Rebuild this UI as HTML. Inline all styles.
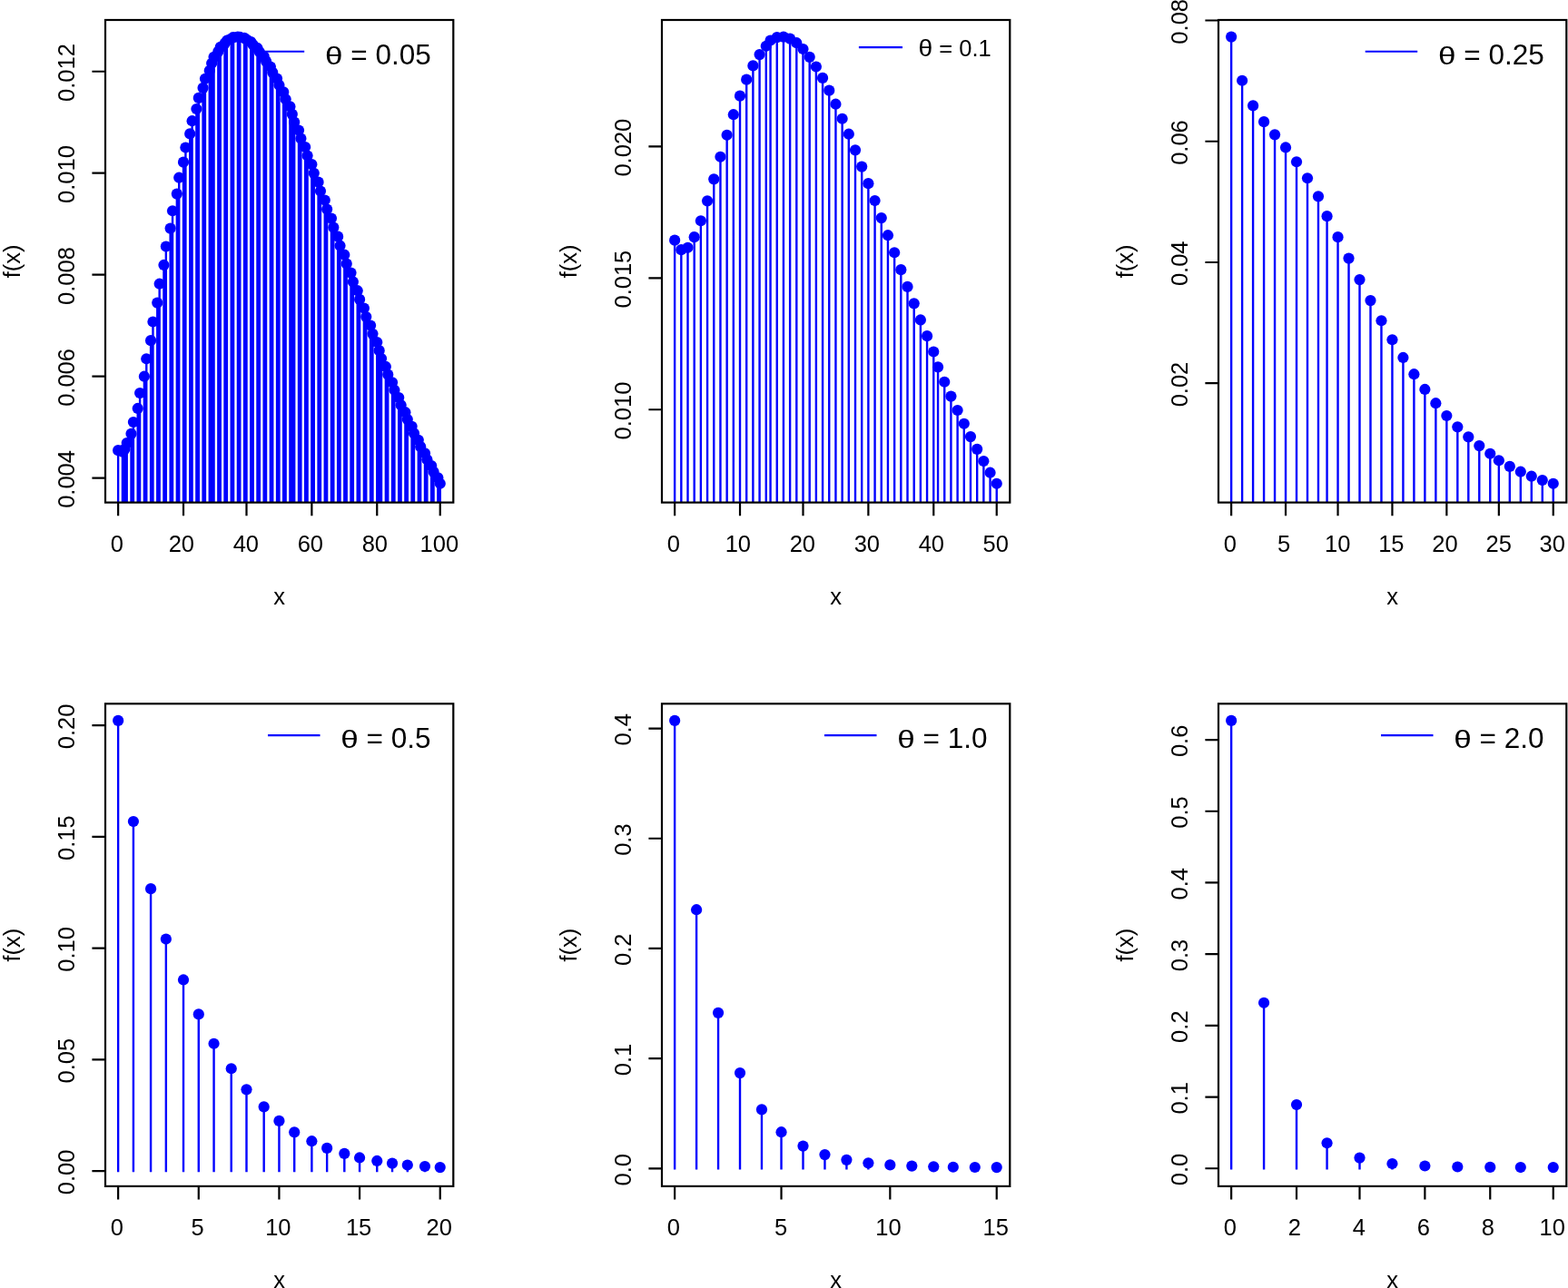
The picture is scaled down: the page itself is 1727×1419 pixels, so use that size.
<!DOCTYPE html>
<html><head><meta charset="utf-8"><title>plot</title>
<style>
html,body{margin:0;padding:0;background:#fff;}
body{width:1727px;height:1419px;overflow:hidden;}
svg{display:block;font-family:"Liberation Sans",Arial,sans-serif;fill:#000;}
</style></head><body>
<svg width="1727" height="1419" viewBox="0 0 1727 1419">
<rect width="100%" height="100%" fill="#fff"/>
<defs>
<clipPath id="c0"><rect x="116.00" y="22.00" width="383.30" height="531.60"/></clipPath>
<clipPath id="c1"><rect x="729.00" y="22.00" width="383.30" height="531.60"/></clipPath>
<clipPath id="c2"><rect x="1342.00" y="22.00" width="383.30" height="531.60"/></clipPath>
<clipPath id="c3"><rect x="116.00" y="775.30" width="383.30" height="531.60"/></clipPath>
<clipPath id="c4"><rect x="729.00" y="775.30" width="383.30" height="531.60"/></clipPath>
<clipPath id="c5"><rect x="1342.00" y="775.30" width="383.30" height="531.60"/></clipPath>
</defs>
<g clip-path="url(#c0)">
<path d="M128.94 558.60H131.33V497.24H128.94ZM133.73 558.60H136.13V498.86H133.73ZM136.13 558.60H138.52V495.92H136.13ZM138.52 558.60H140.92V489.10H138.52ZM143.31 558.60H145.71V479.00H143.31ZM145.71 558.60H148.11V466.15H145.71ZM150.50 558.60H152.90V451.05H150.50ZM152.90 558.60H155.29V434.14H152.90ZM157.69 558.60H160.09V415.81H157.69ZM160.09 558.60H162.48V396.40H160.09ZM164.88 558.60H167.27V376.24H164.88ZM167.27 558.60H169.67V355.59H167.27ZM172.07 558.60H174.46V334.71H172.07ZM174.46 558.60H176.86V313.80H174.46ZM179.25 558.60H181.65V293.06H179.25ZM181.65 558.60H184.05V272.64H181.65ZM186.44 558.60H188.84V252.70H186.44ZM188.84 558.60H191.23V233.34H188.84ZM193.63 558.60H196.03V214.68H193.63ZM196.03 558.60H198.42V196.80H196.03ZM200.82 558.60H203.21V179.77H200.82ZM203.21 558.60H205.61V163.65H203.21ZM208.01 558.60H210.40V148.49H208.01ZM210.40 558.60H212.80V134.31H210.40ZM215.19 558.60H217.59V121.15H215.19ZM217.59 558.60H219.99V109.03H217.59ZM222.38 558.60H224.78V97.94H222.38ZM224.78 558.60H227.17V87.89H224.78ZM229.57 558.60H231.97V78.88H229.57ZM231.97 558.60H234.36V70.90H231.97ZM234.36 558.60H236.76V63.94H234.36ZM239.15 558.60H241.55V57.97H239.15ZM241.55 558.60H243.95V52.98H241.55ZM246.34 558.60H248.74V48.93H246.34ZM248.74 558.60H251.13V45.81H248.74ZM253.53 558.60H255.93V43.58H253.53ZM255.93 558.60H258.32V42.22H255.93ZM260.72 558.60H263.11V41.69H260.72ZM263.11 558.60H265.51V41.96H263.11ZM267.91 558.60H270.30V42.99H267.91ZM270.30 558.60H272.70V44.75H270.30ZM275.09 558.60H277.49V47.20H275.09ZM277.49 558.60H279.89V50.32H277.49ZM282.28 558.60H284.68V54.06H282.28ZM284.68 558.60H287.07V58.39H284.68ZM289.47 558.60H291.87V63.28H289.47ZM291.87 558.60H294.26V68.69H291.87ZM296.66 558.60H299.05V74.59H296.66ZM299.05 558.60H301.45V80.95H299.05ZM303.85 558.60H306.24V87.73H303.85ZM306.24 558.60H308.64V94.91H306.24ZM311.03 558.60H313.43V102.45H311.03ZM313.43 558.60H315.83V110.33H313.43ZM318.22 558.60H320.62V118.51H318.22ZM320.62 558.60H323.01V126.97H320.62ZM323.01 558.60H325.41V135.69H323.01ZM327.81 558.60H330.20V144.63H327.81ZM330.20 558.60H332.60V153.77H330.20ZM334.99 558.60H337.39V163.10H334.99ZM337.39 558.60H339.79V172.58H337.39ZM342.18 558.60H344.58V182.20H342.18ZM344.58 558.60H346.97V191.93H344.58ZM349.37 558.60H351.77V201.76H349.37ZM351.77 558.60H354.16V211.66H351.77ZM356.56 558.60H358.95V221.63H356.56ZM358.95 558.60H361.35V231.63H358.95ZM363.75 558.60H366.14V241.67H363.75ZM366.14 558.60H368.54V251.72H366.14ZM370.93 558.60H373.33V261.76H370.93ZM373.33 558.60H375.73V271.79H373.33ZM378.12 558.60H380.52V281.80H378.12ZM380.52 558.60H382.91V291.76H380.52ZM385.31 558.60H387.71V301.68H385.31ZM387.71 558.60H390.10V311.54H387.71ZM392.50 558.60H394.89V321.32H392.50ZM394.89 558.60H397.29V331.03H394.89ZM399.69 558.60H402.08V340.66H399.69ZM402.08 558.60H404.48V350.19H402.08ZM406.87 558.60H409.27V359.62H406.87ZM409.27 558.60H411.67V368.94H409.27ZM414.06 558.60H416.46V378.15H414.06ZM416.46 558.60H418.85V387.25H416.46ZM418.85 558.60H421.25V396.22H418.85ZM423.65 558.60H426.04V405.07H423.65ZM426.04 558.60H428.44V413.78H426.04ZM430.83 558.60H433.23V422.37H430.83ZM433.23 558.60H435.63V430.81H433.23ZM438.02 558.60H440.42V439.12H438.02ZM440.42 558.60H442.81V447.29H440.42ZM445.21 558.60H447.61V455.31H445.21ZM447.61 558.60H450.00V463.19H447.61ZM452.40 558.60H454.79V470.92H452.40ZM454.79 558.60H457.19V478.51H454.79ZM459.59 558.60H461.98V485.95H459.59ZM461.98 558.60H464.38V493.25H461.98ZM466.77 558.60H469.17V500.39H466.77ZM469.17 558.60H471.57V507.39H469.17ZM473.96 558.60H476.36V514.24H473.96ZM476.36 558.60H478.75V520.94H476.36ZM481.15 558.60H483.55V527.50H481.15ZM483.55 558.60H485.94V533.91H483.55Z" fill="#0000ff"/>
<circle fill="#0000ff" cx="130.14" cy="496.14" r="6.1"/><circle fill="#0000ff" cx="134.93" cy="497.76" r="6.1"/><circle fill="#0000ff" cx="137.32" cy="494.82" r="6.1"/><circle fill="#0000ff" cx="139.72" cy="488.00" r="6.1"/><circle fill="#0000ff" cx="144.51" cy="477.90" r="6.1"/><circle fill="#0000ff" cx="146.91" cy="465.05" r="6.1"/><circle fill="#0000ff" cx="151.70" cy="449.95" r="6.1"/><circle fill="#0000ff" cx="154.10" cy="433.04" r="6.1"/><circle fill="#0000ff" cx="158.89" cy="414.71" r="6.1"/><circle fill="#0000ff" cx="161.28" cy="395.30" r="6.1"/><circle fill="#0000ff" cx="166.08" cy="375.14" r="6.1"/><circle fill="#0000ff" cx="168.47" cy="354.49" r="6.1"/><circle fill="#0000ff" cx="173.26" cy="333.61" r="6.1"/><circle fill="#0000ff" cx="175.66" cy="312.70" r="6.1"/><circle fill="#0000ff" cx="180.45" cy="291.96" r="6.1"/><circle fill="#0000ff" cx="182.85" cy="271.54" r="6.1"/><circle fill="#0000ff" cx="187.64" cy="251.60" r="6.1"/><circle fill="#0000ff" cx="190.04" cy="232.24" r="6.1"/><circle fill="#0000ff" cx="194.83" cy="213.58" r="6.1"/><circle fill="#0000ff" cx="197.22" cy="195.70" r="6.1"/><circle fill="#0000ff" cx="202.02" cy="178.67" r="6.1"/><circle fill="#0000ff" cx="204.41" cy="162.55" r="6.1"/><circle fill="#0000ff" cx="209.20" cy="147.39" r="6.1"/><circle fill="#0000ff" cx="211.60" cy="133.21" r="6.1"/><circle fill="#0000ff" cx="216.39" cy="120.05" r="6.1"/><circle fill="#0000ff" cx="218.79" cy="107.93" r="6.1"/><circle fill="#0000ff" cx="223.58" cy="96.84" r="6.1"/><circle fill="#0000ff" cx="225.98" cy="86.79" r="6.1"/><circle fill="#0000ff" cx="230.77" cy="77.78" r="6.1"/><circle fill="#0000ff" cx="233.16" cy="69.80" r="6.1"/><circle fill="#0000ff" cx="235.56" cy="62.84" r="6.1"/><circle fill="#0000ff" cx="240.35" cy="56.87" r="6.1"/><circle fill="#0000ff" cx="242.75" cy="51.88" r="6.1"/><circle fill="#0000ff" cx="247.54" cy="47.83" r="6.1"/><circle fill="#0000ff" cx="249.94" cy="44.71" r="6.1"/><circle fill="#0000ff" cx="254.73" cy="42.48" r="6.1"/><circle fill="#0000ff" cx="257.12" cy="41.12" r="6.1"/><circle fill="#0000ff" cx="261.92" cy="40.59" r="6.1"/><circle fill="#0000ff" cx="264.31" cy="40.86" r="6.1"/><circle fill="#0000ff" cx="269.10" cy="41.89" r="6.1"/><circle fill="#0000ff" cx="271.50" cy="43.65" r="6.1"/><circle fill="#0000ff" cx="276.29" cy="46.10" r="6.1"/><circle fill="#0000ff" cx="278.69" cy="49.22" r="6.1"/><circle fill="#0000ff" cx="283.48" cy="52.96" r="6.1"/><circle fill="#0000ff" cx="285.88" cy="57.29" r="6.1"/><circle fill="#0000ff" cx="290.67" cy="62.18" r="6.1"/><circle fill="#0000ff" cx="293.06" cy="67.59" r="6.1"/><circle fill="#0000ff" cx="297.86" cy="73.49" r="6.1"/><circle fill="#0000ff" cx="300.25" cy="79.85" r="6.1"/><circle fill="#0000ff" cx="305.04" cy="86.63" r="6.1"/><circle fill="#0000ff" cx="307.44" cy="93.81" r="6.1"/><circle fill="#0000ff" cx="312.23" cy="101.35" r="6.1"/><circle fill="#0000ff" cx="314.63" cy="109.23" r="6.1"/><circle fill="#0000ff" cx="319.42" cy="117.41" r="6.1"/><circle fill="#0000ff" cx="321.82" cy="125.87" r="6.1"/><circle fill="#0000ff" cx="324.21" cy="134.59" r="6.1"/><circle fill="#0000ff" cx="329.00" cy="143.53" r="6.1"/><circle fill="#0000ff" cx="331.40" cy="152.67" r="6.1"/><circle fill="#0000ff" cx="336.19" cy="162.00" r="6.1"/><circle fill="#0000ff" cx="338.59" cy="171.48" r="6.1"/><circle fill="#0000ff" cx="343.38" cy="181.10" r="6.1"/><circle fill="#0000ff" cx="345.78" cy="190.83" r="6.1"/><circle fill="#0000ff" cx="350.57" cy="200.66" r="6.1"/><circle fill="#0000ff" cx="352.96" cy="210.56" r="6.1"/><circle fill="#0000ff" cx="357.76" cy="220.53" r="6.1"/><circle fill="#0000ff" cx="360.15" cy="230.53" r="6.1"/><circle fill="#0000ff" cx="364.94" cy="240.57" r="6.1"/><circle fill="#0000ff" cx="367.34" cy="250.62" r="6.1"/><circle fill="#0000ff" cx="372.13" cy="260.66" r="6.1"/><circle fill="#0000ff" cx="374.53" cy="270.69" r="6.1"/><circle fill="#0000ff" cx="379.32" cy="280.70" r="6.1"/><circle fill="#0000ff" cx="381.72" cy="290.66" r="6.1"/><circle fill="#0000ff" cx="386.51" cy="300.58" r="6.1"/><circle fill="#0000ff" cx="388.90" cy="310.44" r="6.1"/><circle fill="#0000ff" cx="393.70" cy="320.22" r="6.1"/><circle fill="#0000ff" cx="396.09" cy="329.93" r="6.1"/><circle fill="#0000ff" cx="400.88" cy="339.56" r="6.1"/><circle fill="#0000ff" cx="403.28" cy="349.09" r="6.1"/><circle fill="#0000ff" cx="408.07" cy="358.52" r="6.1"/><circle fill="#0000ff" cx="410.47" cy="367.84" r="6.1"/><circle fill="#0000ff" cx="415.26" cy="377.05" r="6.1"/><circle fill="#0000ff" cx="417.66" cy="386.15" r="6.1"/><circle fill="#0000ff" cx="420.05" cy="395.12" r="6.1"/><circle fill="#0000ff" cx="424.84" cy="403.97" r="6.1"/><circle fill="#0000ff" cx="427.24" cy="412.68" r="6.1"/><circle fill="#0000ff" cx="432.03" cy="421.27" r="6.1"/><circle fill="#0000ff" cx="434.43" cy="429.71" r="6.1"/><circle fill="#0000ff" cx="439.22" cy="438.02" r="6.1"/><circle fill="#0000ff" cx="441.62" cy="446.19" r="6.1"/><circle fill="#0000ff" cx="446.41" cy="454.21" r="6.1"/><circle fill="#0000ff" cx="448.80" cy="462.09" r="6.1"/><circle fill="#0000ff" cx="453.60" cy="469.82" r="6.1"/><circle fill="#0000ff" cx="455.99" cy="477.41" r="6.1"/><circle fill="#0000ff" cx="460.78" cy="484.85" r="6.1"/><circle fill="#0000ff" cx="463.18" cy="492.15" r="6.1"/><circle fill="#0000ff" cx="467.97" cy="499.29" r="6.1"/><circle fill="#0000ff" cx="470.37" cy="506.29" r="6.1"/><circle fill="#0000ff" cx="475.16" cy="513.14" r="6.1"/><circle fill="#0000ff" cx="477.56" cy="519.84" r="6.1"/><circle fill="#0000ff" cx="482.35" cy="526.40" r="6.1"/><circle fill="#0000ff" cx="484.74" cy="532.81" r="6.1"/>
</g>
<rect x="116.00" y="22.00" width="383.30" height="531.60" fill="none" stroke="#000" stroke-width="2.2"/>
<path d="M130.14 553.60v14.6M202.02 553.60v14.6M271.50 553.60v14.6M343.38 553.60v14.6M415.26 553.60v14.6M484.74 553.60v14.6M116.00 526.64h-14.6M116.00 414.66h-14.6M116.00 302.69h-14.6M116.00 190.71h-14.6M116.00 78.74h-14.6" stroke="#000" stroke-width="2.2" fill="none"/>
<text x="128.90" y="608.10" font-size="25.5" text-anchor="middle">0</text>
<text x="199.88" y="608.10" font-size="25.5" text-anchor="middle">20</text>
<text x="270.86" y="608.10" font-size="25.5" text-anchor="middle">40</text>
<text x="341.84" y="608.10" font-size="25.5" text-anchor="middle">60</text>
<text x="412.82" y="608.10" font-size="25.5" text-anchor="middle">80</text>
<text x="483.80" y="608.10" font-size="25.5" text-anchor="middle">100</text>
<text x="82.30" y="527.94" font-size="25.5" text-anchor="middle" transform="rotate(-90 82.30 527.94)">0.004</text>
<text x="82.30" y="415.96" font-size="25.5" text-anchor="middle" transform="rotate(-90 82.30 415.96)">0.006</text>
<text x="82.30" y="303.99" font-size="25.5" text-anchor="middle" transform="rotate(-90 82.30 303.99)">0.008</text>
<text x="82.30" y="192.01" font-size="25.5" text-anchor="middle" transform="rotate(-90 82.30 192.01)">0.010</text>
<text x="82.30" y="80.04" font-size="25.5" text-anchor="middle" transform="rotate(-90 82.30 80.04)">0.012</text>
<text x="307.65" y="665.80" font-size="25.5" text-anchor="middle">x</text>
<text x="21.90" y="287.80" font-size="25.5" text-anchor="middle" transform="rotate(-90 21.90 287.80)">f(x)</text>
<path d="M277.70 56.75H335.20" stroke="#0000ff" stroke-width="2.2"/>
<text x="358.00" y="71.10" font-size="31.5"><tspan font-size="27.2" textLength="19.5" lengthAdjust="spacingAndGlyphs">θ</tspan> = 0.05</text>
<g clip-path="url(#c1)">
<path d="M741.94 558.60H744.33V265.76H741.94ZM749.13 558.60H751.52V276.25H749.13ZM756.31 558.60H758.71V273.88H756.31ZM763.50 558.60H765.90V262.26H763.50ZM770.69 558.60H773.09V244.33H770.69ZM777.88 558.60H780.27V222.43H777.88ZM785.07 558.60H787.46V198.47H785.07ZM792.25 558.60H794.65V173.91H792.25ZM799.44 558.60H801.84V149.90H799.44ZM806.63 558.60H809.03V127.31H806.63ZM813.82 558.60H816.21V106.78H813.82ZM821.01 558.60H823.40V88.74H821.01ZM828.19 558.60H830.59V73.49H828.19ZM835.38 558.60H837.78V61.19H835.38ZM842.57 558.60H844.97V51.91H842.57ZM847.36 558.60H849.76V45.62H847.36ZM854.55 558.60H856.95V42.26H854.55ZM861.74 558.60H864.13V41.69H861.74ZM868.93 558.60H871.32V43.76H868.93ZM876.11 558.60H878.51V48.30H876.11ZM883.30 558.60H885.70V55.10H883.30ZM890.49 558.60H892.89V63.95H890.49ZM897.68 558.60H900.07V74.66H897.68ZM904.87 558.60H907.26V87.00H904.87ZM912.05 558.60H914.45V100.78H912.05ZM919.24 558.60H921.64V115.80H919.24ZM926.43 558.60H928.83V131.87H926.43ZM933.62 558.60H936.01V148.82H933.62ZM940.81 558.60H943.20V166.47H940.81ZM947.99 558.60H950.39V184.67H947.99ZM955.18 558.60H957.58V203.28H955.18ZM962.37 558.60H964.77V222.16H962.37ZM969.56 558.60H971.95V241.21H969.56ZM976.75 558.60H979.14V260.31H976.75ZM983.93 558.60H986.33V279.36H983.93ZM991.12 558.60H993.52V298.28H991.12ZM998.31 558.60H1000.71V316.99H998.31ZM1005.50 558.60H1007.89V335.44H1005.50ZM1012.69 558.60H1015.08V353.55H1012.69ZM1019.87 558.60H1022.27V371.28H1019.87ZM1027.06 558.60H1029.46V388.60H1027.06ZM1031.85 558.60H1034.25V405.46H1031.85ZM1039.04 558.60H1041.44V421.84H1039.04ZM1046.23 558.60H1048.63V437.72H1046.23ZM1053.42 558.60H1055.81V453.08H1053.42ZM1060.61 558.60H1063.00V467.91H1060.61ZM1067.79 558.60H1070.19V482.19H1067.79ZM1074.98 558.60H1077.38V495.94H1074.98ZM1082.17 558.60H1084.57V509.14H1082.17ZM1089.36 558.60H1091.75V521.79H1089.36ZM1096.55 558.60H1098.94V533.91H1096.55Z" fill="#0000ff"/>
<circle fill="#0000ff" cx="743.14" cy="264.66" r="6.1"/><circle fill="#0000ff" cx="750.32" cy="275.15" r="6.1"/><circle fill="#0000ff" cx="757.51" cy="272.78" r="6.1"/><circle fill="#0000ff" cx="764.70" cy="261.16" r="6.1"/><circle fill="#0000ff" cx="771.89" cy="243.23" r="6.1"/><circle fill="#0000ff" cx="779.08" cy="221.33" r="6.1"/><circle fill="#0000ff" cx="786.26" cy="197.37" r="6.1"/><circle fill="#0000ff" cx="793.45" cy="172.81" r="6.1"/><circle fill="#0000ff" cx="800.64" cy="148.80" r="6.1"/><circle fill="#0000ff" cx="807.83" cy="126.21" r="6.1"/><circle fill="#0000ff" cx="815.02" cy="105.68" r="6.1"/><circle fill="#0000ff" cx="822.20" cy="87.64" r="6.1"/><circle fill="#0000ff" cx="829.39" cy="72.39" r="6.1"/><circle fill="#0000ff" cx="836.58" cy="60.09" r="6.1"/><circle fill="#0000ff" cx="843.77" cy="50.81" r="6.1"/><circle fill="#0000ff" cx="848.56" cy="44.52" r="6.1"/><circle fill="#0000ff" cx="855.75" cy="41.16" r="6.1"/><circle fill="#0000ff" cx="862.94" cy="40.59" r="6.1"/><circle fill="#0000ff" cx="870.12" cy="42.66" r="6.1"/><circle fill="#0000ff" cx="877.31" cy="47.20" r="6.1"/><circle fill="#0000ff" cx="884.50" cy="54.00" r="6.1"/><circle fill="#0000ff" cx="891.69" cy="62.85" r="6.1"/><circle fill="#0000ff" cx="898.88" cy="73.56" r="6.1"/><circle fill="#0000ff" cx="906.06" cy="85.90" r="6.1"/><circle fill="#0000ff" cx="913.25" cy="99.68" r="6.1"/><circle fill="#0000ff" cx="920.44" cy="114.70" r="6.1"/><circle fill="#0000ff" cx="927.63" cy="130.77" r="6.1"/><circle fill="#0000ff" cx="934.82" cy="147.72" r="6.1"/><circle fill="#0000ff" cx="942.00" cy="165.37" r="6.1"/><circle fill="#0000ff" cx="949.19" cy="183.57" r="6.1"/><circle fill="#0000ff" cx="956.38" cy="202.18" r="6.1"/><circle fill="#0000ff" cx="963.57" cy="221.06" r="6.1"/><circle fill="#0000ff" cx="970.76" cy="240.11" r="6.1"/><circle fill="#0000ff" cx="977.94" cy="259.21" r="6.1"/><circle fill="#0000ff" cx="985.13" cy="278.26" r="6.1"/><circle fill="#0000ff" cx="992.32" cy="297.18" r="6.1"/><circle fill="#0000ff" cx="999.51" cy="315.89" r="6.1"/><circle fill="#0000ff" cx="1006.70" cy="334.34" r="6.1"/><circle fill="#0000ff" cx="1013.88" cy="352.45" r="6.1"/><circle fill="#0000ff" cx="1021.07" cy="370.18" r="6.1"/><circle fill="#0000ff" cx="1028.26" cy="387.50" r="6.1"/><circle fill="#0000ff" cx="1033.05" cy="404.36" r="6.1"/><circle fill="#0000ff" cx="1040.24" cy="420.74" r="6.1"/><circle fill="#0000ff" cx="1047.43" cy="436.62" r="6.1"/><circle fill="#0000ff" cx="1054.62" cy="451.98" r="6.1"/><circle fill="#0000ff" cx="1061.80" cy="466.81" r="6.1"/><circle fill="#0000ff" cx="1068.99" cy="481.09" r="6.1"/><circle fill="#0000ff" cx="1076.18" cy="494.84" r="6.1"/><circle fill="#0000ff" cx="1083.37" cy="508.04" r="6.1"/><circle fill="#0000ff" cx="1090.56" cy="520.69" r="6.1"/><circle fill="#0000ff" cx="1097.74" cy="532.81" r="6.1"/>
</g>
<rect x="729.00" y="22.00" width="383.30" height="531.60" fill="none" stroke="#000" stroke-width="2.2"/>
<path d="M743.14 553.60v14.6M815.02 553.60v14.6M884.50 553.60v14.6M956.38 553.60v14.6M1028.26 553.60v14.6M1097.74 553.60v14.6M729.00 451.24h-14.6M729.00 306.30h-14.6M729.00 161.36h-14.6" stroke="#000" stroke-width="2.2" fill="none"/>
<text x="741.90" y="608.10" font-size="25.5" text-anchor="middle">0</text>
<text x="812.88" y="608.10" font-size="25.5" text-anchor="middle">10</text>
<text x="883.86" y="608.10" font-size="25.5" text-anchor="middle">20</text>
<text x="954.84" y="608.10" font-size="25.5" text-anchor="middle">30</text>
<text x="1025.82" y="608.10" font-size="25.5" text-anchor="middle">40</text>
<text x="1096.80" y="608.10" font-size="25.5" text-anchor="middle">50</text>
<text x="695.30" y="452.54" font-size="25.5" text-anchor="middle" transform="rotate(-90 695.30 452.54)">0.010</text>
<text x="695.30" y="307.60" font-size="25.5" text-anchor="middle" transform="rotate(-90 695.30 307.60)">0.015</text>
<text x="695.30" y="162.66" font-size="25.5" text-anchor="middle" transform="rotate(-90 695.30 162.66)">0.020</text>
<text x="920.65" y="665.80" font-size="25.5" text-anchor="middle">x</text>
<text x="634.90" y="287.80" font-size="25.5" text-anchor="middle" transform="rotate(-90 634.90 287.80)">f(x)</text>
<path d="M945.90 52.20H994.00" stroke="#0000ff" stroke-width="2.2"/>
<text x="1011.50" y="62.15" font-size="25.5"><tspan textLength="15.7" lengthAdjust="spacingAndGlyphs">θ</tspan> = 0.1</text>
<g clip-path="url(#c2)">
<path d="M1354.94 556.60H1357.33V41.69H1354.94ZM1366.92 556.60H1369.31V89.87H1366.92ZM1378.90 556.60H1381.29V117.50H1378.90ZM1390.88 556.60H1393.27V135.23H1390.88ZM1402.86 556.60H1405.25V149.42H1402.86ZM1414.84 556.60H1417.23V163.57H1414.84ZM1426.82 556.60H1429.21V179.35H1426.82ZM1438.80 556.60H1441.19V197.35H1438.80ZM1450.78 556.60H1453.17V217.47H1450.78ZM1460.36 556.60H1462.76V239.28H1460.36ZM1472.34 556.60H1474.74V262.23H1472.34ZM1484.32 556.60H1486.72V285.71H1484.32ZM1496.30 556.60H1498.70V309.19H1496.30ZM1508.28 556.60H1510.68V332.19H1508.28ZM1520.26 556.60H1522.66V354.34H1520.26ZM1532.24 556.60H1534.64V375.36H1532.24ZM1544.22 556.60H1546.62V395.06H1544.22ZM1556.20 556.60H1558.60V413.31H1556.20ZM1568.18 556.60H1570.58V430.06H1568.18ZM1580.16 556.60H1582.56V445.31H1580.16ZM1592.14 556.60H1594.54V459.08H1592.14ZM1604.12 556.60H1606.52V471.43H1604.12ZM1616.10 556.60H1618.50V482.45H1616.10ZM1628.08 556.60H1630.48V492.21H1628.08ZM1640.06 556.60H1642.46V500.83H1640.06ZM1649.65 556.60H1652.04V508.41H1649.65ZM1661.63 556.60H1664.02V515.03H1661.63ZM1673.61 556.60H1676.00V520.81H1673.61ZM1685.59 556.60H1687.98V525.82H1685.59ZM1697.57 556.60H1699.96V530.16H1697.57ZM1709.55 556.60H1711.94V533.91H1709.55Z" fill="#0000ff"/>
<circle fill="#0000ff" cx="1356.14" cy="40.59" r="6.1"/><circle fill="#0000ff" cx="1368.12" cy="88.77" r="6.1"/><circle fill="#0000ff" cx="1380.10" cy="116.40" r="6.1"/><circle fill="#0000ff" cx="1392.08" cy="134.13" r="6.1"/><circle fill="#0000ff" cx="1404.06" cy="148.32" r="6.1"/><circle fill="#0000ff" cx="1416.04" cy="162.47" r="6.1"/><circle fill="#0000ff" cx="1428.02" cy="178.25" r="6.1"/><circle fill="#0000ff" cx="1440.00" cy="196.25" r="6.1"/><circle fill="#0000ff" cx="1451.98" cy="216.37" r="6.1"/><circle fill="#0000ff" cx="1461.56" cy="238.18" r="6.1"/><circle fill="#0000ff" cx="1473.54" cy="261.13" r="6.1"/><circle fill="#0000ff" cx="1485.52" cy="284.61" r="6.1"/><circle fill="#0000ff" cx="1497.50" cy="308.09" r="6.1"/><circle fill="#0000ff" cx="1509.48" cy="331.09" r="6.1"/><circle fill="#0000ff" cx="1521.46" cy="353.24" r="6.1"/><circle fill="#0000ff" cx="1533.44" cy="374.26" r="6.1"/><circle fill="#0000ff" cx="1545.42" cy="393.96" r="6.1"/><circle fill="#0000ff" cx="1557.40" cy="412.21" r="6.1"/><circle fill="#0000ff" cx="1569.38" cy="428.96" r="6.1"/><circle fill="#0000ff" cx="1581.36" cy="444.21" r="6.1"/><circle fill="#0000ff" cx="1593.34" cy="457.98" r="6.1"/><circle fill="#0000ff" cx="1605.32" cy="470.33" r="6.1"/><circle fill="#0000ff" cx="1617.30" cy="481.35" r="6.1"/><circle fill="#0000ff" cx="1629.28" cy="491.11" r="6.1"/><circle fill="#0000ff" cx="1641.26" cy="499.73" r="6.1"/><circle fill="#0000ff" cx="1650.84" cy="507.31" r="6.1"/><circle fill="#0000ff" cx="1662.82" cy="513.93" r="6.1"/><circle fill="#0000ff" cx="1674.80" cy="519.71" r="6.1"/><circle fill="#0000ff" cx="1686.78" cy="524.72" r="6.1"/><circle fill="#0000ff" cx="1698.76" cy="529.06" r="6.1"/><circle fill="#0000ff" cx="1710.74" cy="532.81" r="6.1"/>
</g>
<rect x="1342.00" y="22.00" width="383.30" height="531.60" fill="none" stroke="#000" stroke-width="2.2"/>
<path d="M1356.14 553.60v14.6M1416.04 553.60v14.6M1473.54 553.60v14.6M1533.44 553.60v14.6M1593.34 553.60v14.6M1650.84 553.60v14.6M1710.74 553.60v14.6M1342.00 422.21h-14.6M1342.00 288.98h-14.6M1342.00 155.74h-14.6M1342.00 22.50h-14.6" stroke="#000" stroke-width="2.2" fill="none"/>
<text x="1354.90" y="608.10" font-size="25.5" text-anchor="middle">0</text>
<text x="1414.05" y="608.10" font-size="25.5" text-anchor="middle">5</text>
<text x="1473.20" y="608.10" font-size="25.5" text-anchor="middle">10</text>
<text x="1532.35" y="608.10" font-size="25.5" text-anchor="middle">15</text>
<text x="1591.50" y="608.10" font-size="25.5" text-anchor="middle">20</text>
<text x="1650.65" y="608.10" font-size="25.5" text-anchor="middle">25</text>
<text x="1709.80" y="608.10" font-size="25.5" text-anchor="middle">30</text>
<text x="1308.30" y="423.51" font-size="25.5" text-anchor="middle" transform="rotate(-90 1308.30 423.51)">0.02</text>
<text x="1308.30" y="290.28" font-size="25.5" text-anchor="middle" transform="rotate(-90 1308.30 290.28)">0.04</text>
<text x="1308.30" y="157.04" font-size="25.5" text-anchor="middle" transform="rotate(-90 1308.30 157.04)">0.06</text>
<text x="1308.30" y="23.80" font-size="25.5" text-anchor="middle" transform="rotate(-90 1308.30 23.80)">0.08</text>
<text x="1533.65" y="665.80" font-size="25.5" text-anchor="middle">x</text>
<text x="1247.90" y="287.80" font-size="25.5" text-anchor="middle" transform="rotate(-90 1247.90 287.80)">f(x)</text>
<path d="M1503.70 56.75H1561.20" stroke="#0000ff" stroke-width="2.2"/>
<text x="1584.00" y="71.10" font-size="31.5"><tspan font-size="27.2" textLength="19.5" lengthAdjust="spacingAndGlyphs">θ</tspan> = 0.25</text>
<g clip-path="url(#c3)">
<path d="M128.94 1291.31H131.33V794.99H128.94ZM145.71 1291.31H148.11V906.15H145.71ZM164.88 1291.31H167.27V980.26H164.88ZM181.65 1291.31H184.05V1035.65H181.65ZM200.82 1291.31H203.21V1080.56H200.82ZM217.59 1291.31H219.99V1118.49H217.59ZM234.36 1291.31H236.76V1150.87H234.36ZM253.53 1291.31H255.93V1178.37H253.53ZM270.30 1291.31H272.70V1201.44H270.30ZM289.47 1291.31H291.87V1220.50H289.47ZM306.24 1291.31H308.64V1236.01H306.24ZM323.01 1291.31H325.41V1248.45H323.01ZM342.18 1291.31H344.58V1258.30H342.18ZM358.95 1291.31H361.35V1266.01H358.95ZM378.12 1291.31H380.52V1271.98H378.12ZM394.89 1291.31H397.29V1276.56H394.89ZM414.06 1291.31H416.46V1280.05H414.06ZM430.83 1291.31H433.23V1282.68H430.83ZM447.61 1291.31H450.00V1284.65H447.61ZM466.77 1291.31H469.17V1286.12H466.77ZM483.55 1291.31H485.94V1287.21H483.55Z" fill="#0000ff"/>
<circle fill="#0000ff" cx="130.14" cy="793.89" r="6.1"/><circle fill="#0000ff" cx="146.91" cy="905.05" r="6.1"/><circle fill="#0000ff" cx="166.08" cy="979.16" r="6.1"/><circle fill="#0000ff" cx="182.85" cy="1034.55" r="6.1"/><circle fill="#0000ff" cx="202.02" cy="1079.46" r="6.1"/><circle fill="#0000ff" cx="218.79" cy="1117.39" r="6.1"/><circle fill="#0000ff" cx="235.56" cy="1149.77" r="6.1"/><circle fill="#0000ff" cx="254.73" cy="1177.27" r="6.1"/><circle fill="#0000ff" cx="271.50" cy="1200.34" r="6.1"/><circle fill="#0000ff" cx="290.67" cy="1219.40" r="6.1"/><circle fill="#0000ff" cx="307.44" cy="1234.91" r="6.1"/><circle fill="#0000ff" cx="324.21" cy="1247.35" r="6.1"/><circle fill="#0000ff" cx="343.38" cy="1257.20" r="6.1"/><circle fill="#0000ff" cx="360.15" cy="1264.91" r="6.1"/><circle fill="#0000ff" cx="379.32" cy="1270.88" r="6.1"/><circle fill="#0000ff" cx="396.09" cy="1275.46" r="6.1"/><circle fill="#0000ff" cx="415.26" cy="1278.95" r="6.1"/><circle fill="#0000ff" cx="432.03" cy="1281.58" r="6.1"/><circle fill="#0000ff" cx="448.80" cy="1283.55" r="6.1"/><circle fill="#0000ff" cx="467.97" cy="1285.02" r="6.1"/><circle fill="#0000ff" cx="484.74" cy="1286.11" r="6.1"/>
</g>
<rect x="116.00" y="775.30" width="383.30" height="531.60" fill="none" stroke="#000" stroke-width="2.2"/>
<path d="M130.14 1306.90v14.6M218.79 1306.90v14.6M307.44 1306.90v14.6M396.09 1306.90v14.6M484.74 1306.90v14.6M116.00 1290.16h-14.6M116.00 1167.37h-14.6M116.00 1044.59h-14.6M116.00 921.81h-14.6M116.00 799.03h-14.6" stroke="#000" stroke-width="2.2" fill="none"/>
<text x="128.90" y="1361.40" font-size="25.5" text-anchor="middle">0</text>
<text x="217.62" y="1361.40" font-size="25.5" text-anchor="middle">5</text>
<text x="306.35" y="1361.40" font-size="25.5" text-anchor="middle">10</text>
<text x="395.08" y="1361.40" font-size="25.5" text-anchor="middle">15</text>
<text x="483.80" y="1361.40" font-size="25.5" text-anchor="middle">20</text>
<text x="82.30" y="1291.46" font-size="25.5" text-anchor="middle" transform="rotate(-90 82.30 1291.46)">0.00</text>
<text x="82.30" y="1168.67" font-size="25.5" text-anchor="middle" transform="rotate(-90 82.30 1168.67)">0.05</text>
<text x="82.30" y="1045.89" font-size="25.5" text-anchor="middle" transform="rotate(-90 82.30 1045.89)">0.10</text>
<text x="82.30" y="923.11" font-size="25.5" text-anchor="middle" transform="rotate(-90 82.30 923.11)">0.15</text>
<text x="82.30" y="800.33" font-size="25.5" text-anchor="middle" transform="rotate(-90 82.30 800.33)">0.20</text>
<text x="307.65" y="1419.10" font-size="25.5" text-anchor="middle">x</text>
<text x="21.90" y="1041.10" font-size="25.5" text-anchor="middle" transform="rotate(-90 21.90 1041.10)">f(x)</text>
<path d="M295.00 810.05H352.50" stroke="#0000ff" stroke-width="2.2"/>
<text x="375.30" y="824.40" font-size="31.5"><tspan font-size="27.2" textLength="19.5" lengthAdjust="spacingAndGlyphs">θ</tspan> = 0.5</text>
<g clip-path="url(#c4)">
<path d="M741.94 1288.53H744.33V794.99H741.94ZM765.90 1288.53H768.29V1003.31H765.90ZM789.86 1288.53H792.25V1116.94H789.86ZM813.82 1288.53H816.21V1183.22H813.82ZM837.78 1288.53H840.17V1223.47H837.78ZM859.34 1288.53H861.74V1248.32H859.34ZM883.30 1288.53H885.70V1263.71H883.30ZM907.26 1288.53H909.66V1273.18H907.26ZM931.22 1288.53H933.62V1278.95H931.22ZM955.18 1288.53H957.58V1282.43H955.18ZM979.14 1288.53H981.54V1284.50H979.14ZM1003.10 1288.53H1005.50V1285.72H1003.10ZM1027.06 1288.53H1029.46V1286.43H1027.06ZM1048.63 1288.53H1051.02V1286.84H1048.63ZM1072.59 1288.53H1074.98V1287.08H1072.59ZM1096.55 1288.53H1098.94V1287.21H1096.55Z" fill="#0000ff"/>
<circle fill="#0000ff" cx="743.14" cy="793.89" r="6.1"/><circle fill="#0000ff" cx="767.10" cy="1002.21" r="6.1"/><circle fill="#0000ff" cx="791.06" cy="1115.84" r="6.1"/><circle fill="#0000ff" cx="815.02" cy="1182.12" r="6.1"/><circle fill="#0000ff" cx="838.98" cy="1222.37" r="6.1"/><circle fill="#0000ff" cx="860.54" cy="1247.22" r="6.1"/><circle fill="#0000ff" cx="884.50" cy="1262.61" r="6.1"/><circle fill="#0000ff" cx="908.46" cy="1272.08" r="6.1"/><circle fill="#0000ff" cx="932.42" cy="1277.85" r="6.1"/><circle fill="#0000ff" cx="956.38" cy="1281.33" r="6.1"/><circle fill="#0000ff" cx="980.34" cy="1283.40" r="6.1"/><circle fill="#0000ff" cx="1004.30" cy="1284.62" r="6.1"/><circle fill="#0000ff" cx="1028.26" cy="1285.33" r="6.1"/><circle fill="#0000ff" cx="1049.82" cy="1285.74" r="6.1"/><circle fill="#0000ff" cx="1073.78" cy="1285.98" r="6.1"/><circle fill="#0000ff" cx="1097.74" cy="1286.11" r="6.1"/>
</g>
<rect x="729.00" y="775.30" width="383.30" height="531.60" fill="none" stroke="#000" stroke-width="2.2"/>
<path d="M743.14 1306.90v14.6M860.54 1306.90v14.6M980.34 1306.90v14.6M1097.74 1306.90v14.6M729.00 1287.38h-14.6M729.00 1166.18h-14.6M729.00 1044.97h-14.6M729.00 923.77h-14.6M729.00 802.56h-14.6" stroke="#000" stroke-width="2.2" fill="none"/>
<text x="741.90" y="1361.40" font-size="25.5" text-anchor="middle">0</text>
<text x="860.20" y="1361.40" font-size="25.5" text-anchor="middle">5</text>
<text x="978.50" y="1361.40" font-size="25.5" text-anchor="middle">10</text>
<text x="1096.80" y="1361.40" font-size="25.5" text-anchor="middle">15</text>
<text x="695.30" y="1288.68" font-size="25.5" text-anchor="middle" transform="rotate(-90 695.30 1288.68)">0.0</text>
<text x="695.30" y="1167.48" font-size="25.5" text-anchor="middle" transform="rotate(-90 695.30 1167.48)">0.1</text>
<text x="695.30" y="1046.27" font-size="25.5" text-anchor="middle" transform="rotate(-90 695.30 1046.27)">0.2</text>
<text x="695.30" y="925.07" font-size="25.5" text-anchor="middle" transform="rotate(-90 695.30 925.07)">0.3</text>
<text x="695.30" y="803.86" font-size="25.5" text-anchor="middle" transform="rotate(-90 695.30 803.86)">0.4</text>
<text x="920.65" y="1419.10" font-size="25.5" text-anchor="middle">x</text>
<text x="634.90" y="1041.10" font-size="25.5" text-anchor="middle" transform="rotate(-90 634.90 1041.10)">f(x)</text>
<path d="M908.00 810.05H965.50" stroke="#0000ff" stroke-width="2.2"/>
<text x="988.30" y="824.40" font-size="31.5"><tspan font-size="27.2" textLength="19.5" lengthAdjust="spacingAndGlyphs">θ</tspan> = 1.0</text>
<g clip-path="url(#c5)">
<path d="M1354.94 1288.40H1357.33V794.99H1354.94ZM1390.88 1288.40H1393.27V1105.89H1390.88ZM1426.82 1288.40H1429.21V1218.16H1426.82ZM1460.36 1288.40H1462.76V1260.38H1460.36ZM1496.30 1288.40H1498.70V1276.69H1496.30ZM1532.24 1288.40H1534.64V1283.09H1532.24ZM1568.18 1288.40H1570.58V1285.61H1568.18ZM1604.12 1288.40H1606.52V1286.61H1604.12ZM1640.06 1288.40H1642.46V1287.00H1640.06ZM1673.61 1288.40H1676.00V1287.15H1673.61ZM1709.55 1288.40H1711.94V1287.21H1709.55Z" fill="#0000ff"/>
<circle fill="#0000ff" cx="1356.14" cy="793.89" r="6.1"/><circle fill="#0000ff" cx="1392.08" cy="1104.79" r="6.1"/><circle fill="#0000ff" cx="1428.02" cy="1217.06" r="6.1"/><circle fill="#0000ff" cx="1461.56" cy="1259.28" r="6.1"/><circle fill="#0000ff" cx="1497.50" cy="1275.59" r="6.1"/><circle fill="#0000ff" cx="1533.44" cy="1281.99" r="6.1"/><circle fill="#0000ff" cx="1569.38" cy="1284.51" r="6.1"/><circle fill="#0000ff" cx="1605.32" cy="1285.51" r="6.1"/><circle fill="#0000ff" cx="1641.26" cy="1285.90" r="6.1"/><circle fill="#0000ff" cx="1674.80" cy="1286.05" r="6.1"/><circle fill="#0000ff" cx="1710.74" cy="1286.11" r="6.1"/>
</g>
<rect x="1342.00" y="775.30" width="383.30" height="531.60" fill="none" stroke="#000" stroke-width="2.2"/>
<path d="M1356.14 1306.90v14.6M1428.02 1306.90v14.6M1497.50 1306.90v14.6M1569.38 1306.90v14.6M1641.26 1306.90v14.6M1710.74 1306.90v14.6M1342.00 1287.25h-14.6M1342.00 1208.55h-14.6M1342.00 1129.85h-14.6M1342.00 1051.16h-14.6M1342.00 972.46h-14.6M1342.00 893.76h-14.6M1342.00 815.07h-14.6" stroke="#000" stroke-width="2.2" fill="none"/>
<text x="1354.90" y="1361.40" font-size="25.5" text-anchor="middle">0</text>
<text x="1425.88" y="1361.40" font-size="25.5" text-anchor="middle">2</text>
<text x="1496.86" y="1361.40" font-size="25.5" text-anchor="middle">4</text>
<text x="1567.84" y="1361.40" font-size="25.5" text-anchor="middle">6</text>
<text x="1638.82" y="1361.40" font-size="25.5" text-anchor="middle">8</text>
<text x="1709.80" y="1361.40" font-size="25.5" text-anchor="middle">10</text>
<text x="1308.30" y="1288.55" font-size="25.5" text-anchor="middle" transform="rotate(-90 1308.30 1288.55)">0.0</text>
<text x="1308.30" y="1209.85" font-size="25.5" text-anchor="middle" transform="rotate(-90 1308.30 1209.85)">0.1</text>
<text x="1308.30" y="1131.15" font-size="25.5" text-anchor="middle" transform="rotate(-90 1308.30 1131.15)">0.2</text>
<text x="1308.30" y="1052.46" font-size="25.5" text-anchor="middle" transform="rotate(-90 1308.30 1052.46)">0.3</text>
<text x="1308.30" y="973.76" font-size="25.5" text-anchor="middle" transform="rotate(-90 1308.30 973.76)">0.4</text>
<text x="1308.30" y="895.06" font-size="25.5" text-anchor="middle" transform="rotate(-90 1308.30 895.06)">0.5</text>
<text x="1308.30" y="816.37" font-size="25.5" text-anchor="middle" transform="rotate(-90 1308.30 816.37)">0.6</text>
<text x="1533.65" y="1419.10" font-size="25.5" text-anchor="middle">x</text>
<text x="1247.90" y="1041.10" font-size="25.5" text-anchor="middle" transform="rotate(-90 1247.90 1041.10)">f(x)</text>
<path d="M1521.00 810.05H1578.50" stroke="#0000ff" stroke-width="2.2"/>
<text x="1601.30" y="824.40" font-size="31.5"><tspan font-size="27.2" textLength="19.5" lengthAdjust="spacingAndGlyphs">θ</tspan> = 2.0</text>
</svg>
</body></html>
